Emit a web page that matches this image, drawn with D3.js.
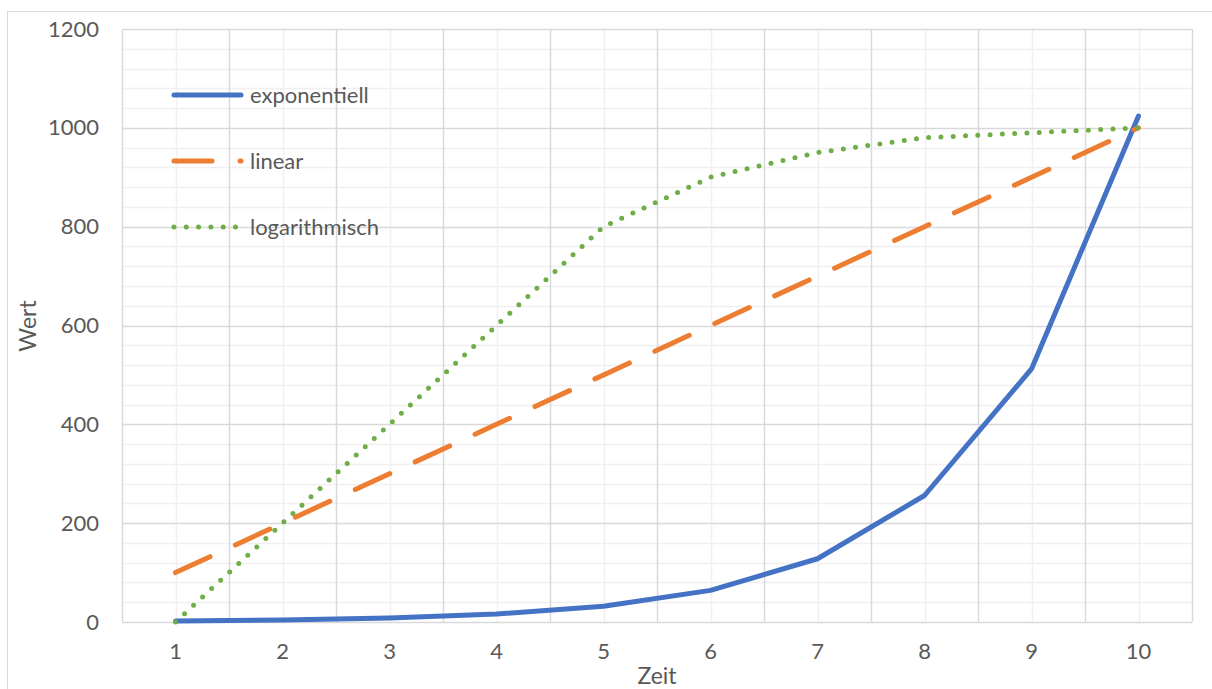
<!DOCTYPE html>
<html>
<head>
<meta charset="utf-8">
<script src="https://cdn.jsdelivr.net/npm/d3@7"></script>
<style>
  body { margin: 0; background: #fff; }
  text { font-family: Lato, "Open Sans", sans-serif; fill: #595959; }
</style>
</head>
<body>
<div id="wrapper"></div>
<script>
const zeit = ["1", "2", "3", "4", "5", "6", "7", "8", "9", "10"];
const exponentiell = [2, 4, 8, 16, 32, 64, 128, 256, 512, 1024];
const linear = [100, 200, 300, 400, 500, 600, 700, 800, 900, 1000];
const logarithmisch = [0, 200, 400, 600, 800, 900, 950, 980, 990, 1000];
const yTicks = [0, 200, 400, 600, 800, 1000, 1200];
const yMinorTicks = d3.range(0, 1201, 40);

const series = [
  { name: "exponentiell", values: exponentiell, color: "#4472C4", dash: null },
  { name: "linear", values: linear, color: "#ED7D31", dash: "38 28" },
  { name: "logarithmisch", values: logarithmisch, color: "#70AD47", dash: "0 12.3" },
];

const W = 1212, H = 689;
const margin = { top: 29, right: 20, bottom: 67, left: 122 };
const width = 1192 - margin.left;
const height = 622 - margin.top;

const root = d3.select(`#wrapper`)
  .append(`svg`)
  .attr(`width`, W)
  .attr(`height`, H);

// outer chart frame
root.append(`rect`)
  .attr(`x`, 7.5).attr(`y`, 11.5)
  .attr(`width`, 1230).attr(`height`, 720)
  .attr(`fill`, `none`)
  .attr(`stroke`, `#d9d9d9`);

const svg = root.append(`g`)
  .attr(`transform`, `translate(${margin.left}, ${margin.top})`);

const x = d3.scaleBand().domain(zeit).range([0, width]);
const y = d3.scaleLinear().domain([0, 1200]).range([height, 0]);

// minor gridlines
svg.append(`g`).selectAll(`line`)
  .data(yMinorTicks.filter(v => v % 200 !== 0))
  .join(`line`)
  .attr(`x1`, 0).attr(`x2`, width)
  .attr(`y1`, d => Math.round(y(d)) + 0.5).attr(`y2`, d => Math.round(y(d)) + 0.5)
  .attr(`stroke`, `#f0f0f0`).attr(`stroke-width`, 1.5);

svg.append(`g`).selectAll(`line`)
  .data(zeit)
  .join(`line`)
  .attr(`x1`, d => Math.round(x(d) + x.bandwidth() / 2) + 0.5)
  .attr(`x2`, d => Math.round(x(d) + x.bandwidth() / 2) + 0.5)
  .attr(`y1`, 0).attr(`y2`, height)
  .attr(`stroke`, `#f0f0f0`).attr(`stroke-width`, 1.5);

// major gridlines
svg.append(`g`).selectAll(`line`)
  .data(yTicks)
  .join(`line`)
  .attr(`x1`, 0).attr(`x2`, width)
  .attr(`y1`, d => Math.round(y(d)) + 0.5).attr(`y2`, d => Math.round(y(d)) + 0.5)
  .attr(`stroke`, `#d9d9d9`).attr(`stroke-width`, 1.5);

svg.append(`g`).selectAll(`line`)
  .data(zeit.map(d => x(d)).concat([width]))
  .join(`line`)
  .attr(`x1`, d => Math.round(d) + 0.5).attr(`x2`, d => Math.round(d) + 0.5)
  .attr(`y1`, 0).attr(`y2`, height)
  .attr(`stroke`, `#d9d9d9`).attr(`stroke-width`, 1.5);

// axes (labels only)
svg.append(`g`)
  .call(d3.axisLeft(y).tickValues(yTicks).tickFormat(d3.format(`d`)).tickSize(0).tickPadding(23))
  .call(g => g.select(`.domain`).remove())
  .selectAll(`text`)
  .style(`font-size`, `22px`).attr(`fill`, `#595959`);

svg.append(`g`)
  .attr(`transform`, `translate(0, ${height})`)
  .call(d3.axisBottom(x).tickSize(0).tickPadding(21))
  .call(g => g.select(`.domain`).remove())
  .selectAll(`text`)
  .style(`font-size`, `22px`).attr(`fill`, `#595959`);

// axis titles
root.append(`text`)
  .attr(`transform`, `translate(36, 326) rotate(-90)`)
  .attr(`text-anchor`, `middle`)
  .style(`font-size`, `23px`)
  .text(`Wert`);

root.append(`text`)
  .attr(`x`, 657).attr(`y`, 684)
  .attr(`text-anchor`, `middle`)
  .style(`font-size`, `23px`)
  .text(`Zeit`);

// lines
const line = d3.line()
  .x((d, i) => x(zeit[i]) + x.bandwidth() / 2)
  .y(d => y(d));

svg.selectAll(`.series`)
  .data(series)
  .join(`path`)
  .attr(`class`, `series`)
  .attr(`d`, d => line(d.values))
  .attr(`fill`, `none`)
  .attr(`stroke`, d => d.color)
  .attr(`stroke-width`, 5)
  .attr(`stroke-linecap`, `round`)
  .attr(`stroke-linejoin`, `round`)
  .attr(`stroke-dasharray`, d => d.dash);

// legend
const legend = root.append(`g`)
  .selectAll(`g`)
  .data(series)
  .join(`g`)
  .attr(`transform`, (d, i) => `translate(174, ${95 + i * 66})`);

legend.append(`line`)
  .attr(`x1`, 0).attr(`x2`, 67)
  .attr(`stroke`, d => d.color)
  .attr(`stroke-width`, 5)
  .attr(`stroke-linecap`, `round`)
  .attr(`stroke-dasharray`, d => d.dash);

legend.append(`text`)
  .attr(`x`, 76).attr(`dy`, `0.35em`)
  .style(`font-size`, `22px`)
  .text(d => d.name);
</script>
</body>
</html>
